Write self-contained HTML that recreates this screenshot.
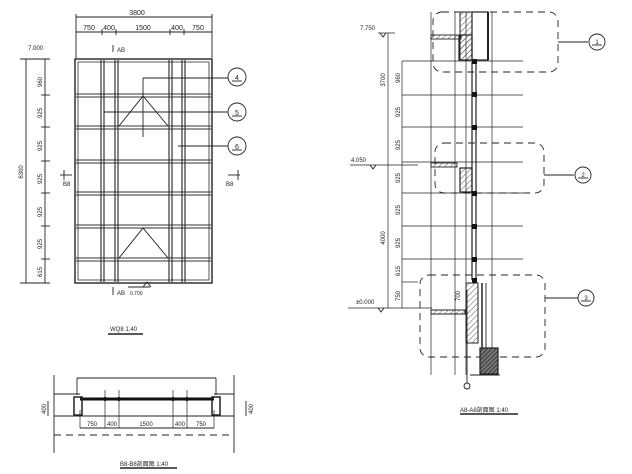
<!DOCTYPE html>
<html><head><meta charset="utf-8"><style>
html,body{margin:0;padding:0;background:#fff;}
svg{display:block;}
text{font-family:"Liberation Sans","Noto Sans CJK SC",sans-serif;fill:#222;}
</style></head><body>
<svg width="632" height="474" viewBox="0 0 632 474" xmlns="http://www.w3.org/2000/svg">
<defs>
<pattern id="h" width="4" height="4" patternUnits="userSpaceOnUse" patternTransform="rotate(45)"><line x1="0" y1="0" x2="0" y2="4" stroke="#333" stroke-width="0.8"/></pattern>
<pattern id="hd" width="3" height="3" patternUnits="userSpaceOnUse" patternTransform="rotate(45)"><rect width="3" height="3" fill="#777"/><line x1="0" y1="0" x2="0" y2="3" stroke="#111" stroke-width="1.2"/></pattern>
</defs>
<g stroke="#222" fill="none" stroke-width="0.9">
<!-- PLAN -->
<line x1="76" y1="17" x2="212" y2="17"/>
<line x1="76" y1="14" x2="76" y2="58"/><line x1="212" y1="14" x2="212" y2="58"/>
<line x1="76" y1="32" x2="212" y2="32"/>
<line x1="102" y1="29" x2="102" y2="35"/><line x1="116" y1="29" x2="116" y2="35"/><line x1="170" y1="29" x2="170" y2="35"/><line x1="184" y1="29" x2="184" y2="35"/>
<rect x="75" y="59" width="137" height="224" stroke-width="1.4"/>
<rect x="78" y="62" width="131" height="218" stroke="#444"/>
<g stroke-width="1.1">
<line x1="101" y1="60" x2="101" y2="282"/><line x1="104" y1="60" x2="104" y2="282"/>
<line x1="115" y1="60" x2="115" y2="282"/><line x1="118" y1="60" x2="118" y2="282"/>
<line x1="169" y1="60" x2="169" y2="282"/><line x1="172" y1="60" x2="172" y2="282"/>
<line x1="182" y1="60" x2="182" y2="282"/><line x1="185" y1="60" x2="185" y2="282"/>
</g>
<g stroke="#333" stroke-width="1">
<line x1="76" y1="94" x2="211" y2="94"/><line x1="76" y1="97" x2="211" y2="97"/>
<line x1="76" y1="126" x2="211" y2="126"/><line x1="76" y1="129" x2="211" y2="129"/>
<line x1="76" y1="160" x2="211" y2="160"/><line x1="76" y1="163" x2="211" y2="163"/>
<line x1="76" y1="192" x2="211" y2="192"/><line x1="76" y1="195" x2="211" y2="195"/>
<line x1="76" y1="225" x2="211" y2="225"/><line x1="76" y1="228" x2="211" y2="228"/>
<line x1="76" y1="258" x2="211" y2="258"/><line x1="76" y1="261" x2="211" y2="261"/>
</g>
<polyline points="119,126 143,96 168,126"/>
<polyline points="119,258 143,228 168,258"/>
<line x1="143" y1="78" x2="143" y2="137"/>
<line x1="143" y1="78" x2="228" y2="78"/>
<line x1="104" y1="112" x2="228" y2="112"/>
<line x1="178" y1="146" x2="228" y2="146"/>
<circle cx="237" cy="77" r="9"/><circle cx="237" cy="112" r="9"/><circle cx="237" cy="146" r="9"/>
<line x1="232" y1="81" x2="242" y2="81"/><line x1="232" y1="116" x2="242" y2="116"/><line x1="232" y1="150" x2="242" y2="150"/>
<line x1="26" y1="59" x2="26" y2="283"/>
<line x1="20" y1="59" x2="50" y2="59"/><line x1="20" y1="283" x2="50" y2="283"/>
<line x1="45" y1="59" x2="45" y2="283"/>
<line x1="41" y1="95" x2="50" y2="95"/><line x1="41" y1="127" x2="50" y2="127"/><line x1="41" y1="161" x2="50" y2="161"/><line x1="41" y1="193" x2="50" y2="193"/><line x1="41" y1="226" x2="50" y2="226"/><line x1="41" y1="259" x2="50" y2="259"/>
<line x1="60" y1="175" x2="72" y2="175"/><line x1="228" y1="175" x2="240" y2="175"/><line x1="238" y1="170" x2="238" y2="180"/><line x1="64" y1="170" x2="64" y2="180"/>
<line x1="113" y1="45" x2="113" y2="52"/><line x1="113" y1="287" x2="113" y2="295"/>
<line x1="128" y1="287" x2="150" y2="287"/><polyline points="143,287 147,282 151,287"/>
<line x1="108" y1="334" x2="143" y2="334" stroke-width="1.5"/>
<!-- B8 SECTION -->
<line x1="54" y1="375" x2="54" y2="453"/><line x1="234" y1="375" x2="234" y2="453"/>
<line x1="77" y1="378" x2="216" y2="378"/><line x1="77" y1="378" x2="77" y2="395"/><line x1="216" y1="378" x2="216" y2="395"/>
<line x1="54" y1="394" x2="80" y2="394"/><line x1="214" y1="394" x2="234" y2="394"/>
<line x1="54" y1="416" x2="234" y2="416"/>
<line x1="80" y1="399" x2="214" y2="399" stroke-width="3" stroke="#111"/>
<rect x="74" y="397" width="8" height="18" stroke-width="1.5"/><rect x="212" y="397" width="8" height="18" stroke-width="1.5"/>
<g stroke-width="0.7"><line x1="105" y1="390" x2="105" y2="428"/><line x1="119" y1="390" x2="119" y2="428"/><line x1="173" y1="390" x2="173" y2="428"/><line x1="187" y1="390" x2="187" y2="428"/><line x1="80" y1="410" x2="80" y2="428"/><line x1="214" y1="410" x2="214" y2="428"/></g>
<g fill="#111" stroke="none"><circle cx="105" cy="399" r="2"/><circle cx="119" cy="399" r="2"/><circle cx="173" cy="399" r="2"/><circle cx="187" cy="399" r="2"/></g>
<line x1="80" y1="428" x2="214" y2="428"/>
<line x1="54" y1="435" x2="234" y2="435" stroke-dasharray="7,5"/>
<line x1="48" y1="401" x2="48" y2="416"/><line x1="246" y1="401" x2="246" y2="416"/>
<line x1="120" y1="468" x2="177" y2="468" stroke-width="1.5"/>
<!-- A8 SECTION -->
<rect x="433" y="12" width="125" height="60" rx="9" stroke-dasharray="7,5"/>
<rect x="435" y="143" width="109" height="50" rx="9" stroke-dasharray="7,5"/>
<rect x="420" y="275" width="125" height="82" rx="9" stroke-dasharray="7,5"/>
<line x1="558" y1="42" x2="588" y2="42"/><circle cx="597" cy="42" r="8"/><line x1="592" y1="45" x2="602" y2="45"/>
<line x1="544" y1="175" x2="574" y2="175"/><circle cx="583" cy="175" r="8"/><line x1="578" y1="178" x2="588" y2="178"/>
<line x1="545" y1="298" x2="578" y2="298"/><circle cx="586" cy="298" r="8"/><line x1="581" y1="301" x2="591" y2="301"/>
<g stroke-width="0.7">
<line x1="431" y1="12" x2="431" y2="375"/><line x1="455" y1="12" x2="455" y2="375"/><line x1="492" y1="12" x2="492" y2="375"/><line x1="466" y1="12" x2="466" y2="375"/>
<line x1="402" y1="61" x2="523" y2="61"/><line x1="402" y1="95" x2="523" y2="95"/><line x1="402" y1="127" x2="523" y2="127"/><line x1="402" y1="162" x2="523" y2="162"/><line x1="402" y1="193" x2="523" y2="193"/><line x1="402" y1="226" x2="523" y2="226"/><line x1="402" y1="259" x2="523" y2="259"/><line x1="402" y1="282" x2="418" y2="282"/>
<line x1="402" y1="61" x2="402" y2="308"/><line x1="388" y1="33" x2="388" y2="308"/>
<line x1="378" y1="33" x2="395" y2="33"/><line x1="350" y1="165" x2="418" y2="165"/><line x1="348" y1="308" x2="432" y2="308"/>
<line x1="470" y1="375" x2="500" y2="375" stroke-width="1"/>
</g>
<polyline points="380,33 383,37 386,33"/><polyline points="370,165 373,169 376,165"/><polyline points="378,308 381,312 384,308"/>
<line x1="472" y1="62" x2="472" y2="280" stroke-width="1.2"/><line x1="476" y1="62" x2="476" y2="280" stroke-width="1.2"/>
<g fill="#111" stroke="none"><rect x="472" y="92" width="5" height="5"/><rect x="472" y="125" width="5" height="5"/><rect x="472" y="191" width="5" height="5"/><rect x="472" y="224" width="5" height="5"/><rect x="472" y="257" width="5" height="5"/><rect x="472" y="278" width="5" height="5"/><rect x="472" y="59" width="5" height="5"/></g>
<rect x="431" y="35" width="30" height="4" fill="url(#h)"/>
<rect x="460" y="12" width="12" height="48" fill="url(#h)" stroke-width="1"/>
<rect x="459" y="35" width="13" height="25" fill="url(#h)" stroke-width="1.2"/>
<rect x="472" y="12" width="16" height="48" stroke-width="1.2"/>
<line x1="488" y1="12" x2="488" y2="60" stroke-width="2"/>
<rect x="431" y="163" width="26" height="4" fill="url(#h)"/>
<rect x="460" y="168" width="12" height="24" fill="url(#h)" stroke-width="1.2"/>
<rect x="431" y="310" width="34" height="4" fill="url(#h)" stroke-width="1"/>
<rect x="466" y="283" width="12" height="60" fill="url(#h)" stroke-width="1"/>
<line x1="482" y1="283" x2="482" y2="350" stroke-width="1.5"/><line x1="486" y1="283" x2="486" y2="348"/>
<rect x="480" y="348" width="18" height="26" fill="url(#hd)" stroke-width="1.2"/>
<circle cx="467" cy="386" r="3"/><line x1="467" y1="290" x2="467" y2="383"/>
<line x1="460" y1="414" x2="518" y2="414" stroke-width="1.5"/>
</g>
<g font-size="7">
<text x="137" y="15" text-anchor="middle">3800</text>
<text x="89" y="30" text-anchor="middle">750</text><text x="109" y="30" text-anchor="middle">400</text><text x="143" y="30" text-anchor="middle">1500</text><text x="177" y="30" text-anchor="middle">400</text><text x="198" y="30" text-anchor="middle">750</text>
<text x="117" y="52" font-size="6">AB</text><text x="117" y="295" font-size="6">AB</text><text x="130" y="295" font-size="5">0.700</text>
<text x="28" y="50" font-size="6">7.000</text>
<text x="63" y="186" font-size="6">B8</text><text x="226" y="186" font-size="6">B8</text>
<text x="237" y="80" text-anchor="middle" font-size="7">4</text><text x="237" y="115" text-anchor="middle" font-size="7">5</text><text x="237" y="149" text-anchor="middle" font-size="7">6</text>
<g font-size="6">
<text transform="translate(42,82) rotate(-90)" text-anchor="middle">960</text>
<text transform="translate(42,113) rotate(-90)" text-anchor="middle">925</text>
<text transform="translate(42,146) rotate(-90)" text-anchor="middle">925</text>
<text transform="translate(42,179) rotate(-90)" text-anchor="middle">925</text>
<text transform="translate(42,212) rotate(-90)" text-anchor="middle">925</text>
<text transform="translate(42,244) rotate(-90)" text-anchor="middle">925</text>
<text transform="translate(42,272) rotate(-90)" text-anchor="middle">615</text>
<text transform="translate(23,172) rotate(-90)" text-anchor="middle">6300</text>
</g>
<text x="110" y="331" font-size="6">WQ8 1:40</text>
<g font-size="6">
<text x="92" y="426" text-anchor="middle">750</text><text x="112" y="426" text-anchor="middle">400</text><text x="146" y="426" text-anchor="middle">1500</text><text x="180" y="426" text-anchor="middle">400</text><text x="201" y="426" text-anchor="middle">750</text>
<text transform="translate(46,409) rotate(-90)" text-anchor="middle">400</text>
<text transform="translate(253,409) rotate(-90)" text-anchor="middle">400</text>
<text x="120" y="466">B8-B8剖面图 1:40</text>
<text x="360" y="30">7.750</text><text x="351" y="162">4.050</text><text x="356" y="304">±0.000</text>
<text transform="translate(385,80) rotate(-90)" text-anchor="middle">3700</text>
<text transform="translate(385,238) rotate(-90)" text-anchor="middle">4000</text>
<text transform="translate(400,78) rotate(-90)" text-anchor="middle">960</text>
<text transform="translate(400,112) rotate(-90)" text-anchor="middle">925</text>
<text transform="translate(400,145) rotate(-90)" text-anchor="middle">925</text>
<text transform="translate(400,178) rotate(-90)" text-anchor="middle">925</text>
<text transform="translate(400,210) rotate(-90)" text-anchor="middle">925</text>
<text transform="translate(400,243) rotate(-90)" text-anchor="middle">925</text>
<text transform="translate(400,271) rotate(-90)" text-anchor="middle">615</text>
<text transform="translate(400,296) rotate(-90)" text-anchor="middle">750</text>
<text transform="translate(460,296) rotate(-90)" text-anchor="middle">700</text>
<text x="597" y="44" text-anchor="middle">1</text><text x="583" y="177" text-anchor="middle">2</text><text x="586" y="300" text-anchor="middle">3</text>
<text x="460" y="412">A8-A8剖面图 1:40</text>
</g>
</g>
</svg>
</body></html>
